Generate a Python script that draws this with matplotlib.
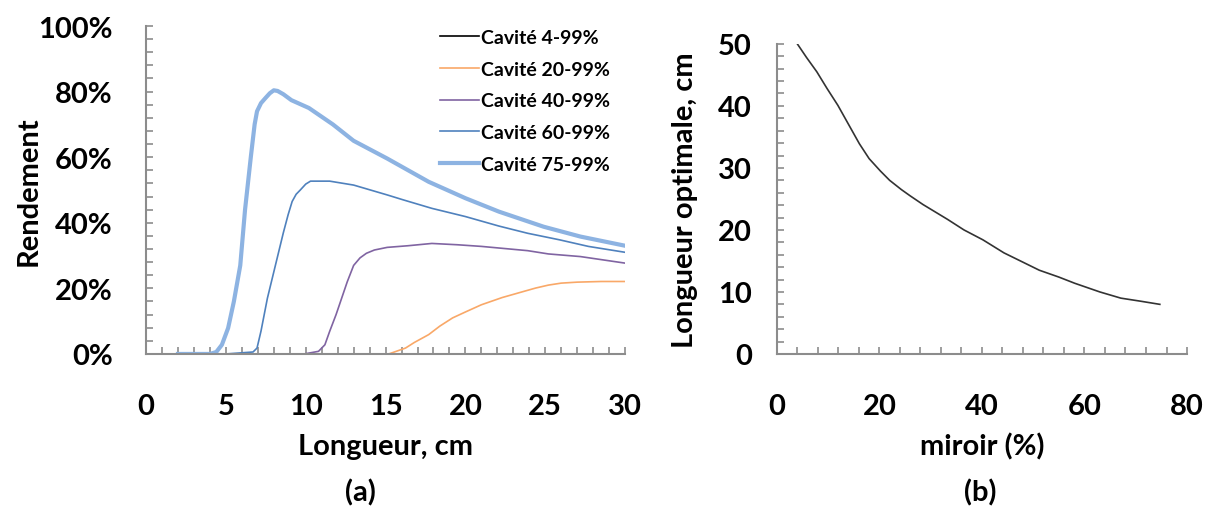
import matplotlib
matplotlib.use("Agg")
import matplotlib.pyplot as plt
from matplotlib.ticker import MultipleLocator, PercentFormatter

plt.rcParams['font.family'] = ['Lato', 'DejaVu Sans']
plt.rcParams['font.weight'] = 'bold'

# --- (a) Rendement vs longueur ---
x_4 = []
y_4 = []

x_20 = [15.2, 16.25, 16.8, 17.7, 18.4, 19.2, 20.0, 21.0, 22.3, 23.6, 24.4, 25.2, 26.0, 27.0, 28.5, 30.0]
y_20 = [0.0, 1.8, 3.5, 5.9, 8.5, 11.0, 12.8, 15.0, 17.2, 19.0, 20.1, 21.0, 21.6, 21.9, 22.1, 22.1]

x_40 = [9.9, 10.8, 11.2, 11.5, 11.9, 12.25, 12.6, 13.0, 13.4, 13.8, 14.3, 15.1, 16.4, 17.9, 19.5, 21.0, 23.9, 25.2, 27.2, 30.0]
y_40 = [0.0, 0.8, 2.8, 6.9, 12.0, 17.0, 22.0, 27.0, 29.3, 30.7, 31.7, 32.5, 33.0, 33.7, 33.3, 32.8, 31.5, 30.5, 29.7, 27.7]

x_60 = [5.0, 6.7, 6.95, 7.2, 7.6, 8.1, 8.6, 8.9, 9.15, 9.4, 9.66, 10.0, 10.3, 11.5, 13.0, 15.1, 16.1, 17.9, 20.0, 22.1, 23.9, 25.9, 27.7, 30.0]
y_60 = [0.0, 0.6, 1.8, 7.0, 17.0, 27.0, 37.0, 42.5, 46.5, 48.7, 50.0, 51.8, 52.7, 52.7, 51.5, 48.5, 47.0, 44.4, 41.9, 39.0, 36.8, 34.8, 32.8, 31.0]

x_75 = [2.0, 4.0, 4.4, 4.75, 5.14, 5.5, 5.9, 6.2, 6.56, 6.8, 6.95, 7.2, 7.47, 7.75, 8.0, 8.24, 8.6, 9.1, 10.2, 11.7, 13.0, 15.1, 17.7, 20.0, 22.1, 24.9, 27.2, 30.0]
y_75 = [0.0, 0.0, 0.6, 2.8, 7.9, 16.0, 27.0, 44.0, 60.0, 70.0, 74.0, 76.5, 78.0, 79.5, 80.4, 80.2, 79.2, 77.4, 75.0, 70.0, 65.0, 59.6, 52.5, 47.5, 43.4, 38.8, 35.8, 33.0]

# --- (b) Longueur optimale vs miroir ---
miroir = [4.0, 5.8, 7.8, 9.8, 11.9, 14.0, 16.1, 18.0, 20.2, 22.0, 24.3, 26.0, 28.5, 33.3, 36.5, 40.2, 44.3, 48.0, 51.2, 55.0, 58.1, 63.0, 67.1, 71.0, 74.7]
longueur_opt = [50.0, 47.8, 45.5, 42.8, 40.1, 37.0, 33.9, 31.5, 29.5, 28.0, 26.5, 25.5, 24.1, 21.7, 20.0, 18.4, 16.3, 14.8, 13.5, 12.4, 11.4, 10.0, 9.0, 8.5, 8.0]

gris = '#8c8c8c'
fs = 21

fig = plt.figure(figsize=(12.1, 5.1), dpi=100)
ax1 = fig.add_axes([0.1207, 0.304, 0.3959, 0.643])
ax2 = fig.add_axes([0.642, 0.304, 0.339, 0.608])

ax1.plot(x_4, y_4, color='black', lw=1.2, label='Cavité 4-99%')
ax1.plot(x_20, y_20, color='#f9a868', lw=1.2, label='Cavité 20-99%')
ax1.plot(x_40, y_40, color='#8064a2', lw=1.2, label='Cavité 40-99%')
ax1.plot(x_60, y_60, color='#4f81bd', lw=1.2, label='Cavité 60-99%')
ax1.plot(x_75, y_75, color='#8db3e2', lw=3, label='Cavité 75-99%')

ax2.plot(miroir, longueur_opt, color='#333333', lw=1.2)

for ax in (ax1, ax2):
    for s in ('top', 'right'):
        ax.spines[s].set_visible(False)
    for s in ('left', 'bottom'):
        ax.spines[s].set_color(gris)
        ax.spines[s].set_linewidth(1.5)
    ax.tick_params(which='both', direction='in', color=gris, width=1.2, length=5)
    ax.tick_params(axis='x', which='major', pad=28, labelsize=fs)
    ax.tick_params(axis='y', which='major', labelsize=fs)

ax1.set_xlim(0, 30)
ax1.set_ylim(0, 100)
ax1.xaxis.set_major_locator(MultipleLocator(5))
ax1.xaxis.set_minor_locator(MultipleLocator(1))
ax1.yaxis.set_major_locator(MultipleLocator(20))
ax1.yaxis.set_minor_locator(MultipleLocator(4))
ax1.yaxis.set_major_formatter(PercentFormatter(decimals=0))
ax1.tick_params(axis='y', which='major', pad=24)
ax1.set_xlabel('Longueur, cm', fontsize=fs, fontweight='bold', labelpad=10)
ax1.set_ylabel('Rendement', fontsize=fs, fontweight='bold')
ax1.yaxis.set_label_coords(-0.217, 0.5)

ax2.set_xlim(0, 80)
ax2.set_ylim(0, 50)
ax2.xaxis.set_major_locator(MultipleLocator(20))
ax2.xaxis.set_minor_locator(MultipleLocator(4))
ax2.yaxis.set_major_locator(MultipleLocator(10))
ax2.yaxis.set_minor_locator(MultipleLocator(2))
ax2.tick_params(axis='y', which='major', pad=18)
ax2.set_xlabel('miroir (%)', fontsize=fs, fontweight='bold', labelpad=10)
ax2.set_ylabel('Longueur optimale, cm', fontsize=fs, fontweight='bold')
ax2.yaxis.set_label_coords(-0.193, 0.5)

ax1.legend(loc='upper left', bbox_to_anchor=(0.349, 0.975), bbox_transform=fig.transFigure,
           frameon=False, prop={'size': 14, 'weight': 'bold'}, handlelength=2.0,
           handletextpad=0.1, labelspacing=0.75)

fig.text(0.298, 0.033, '(a)', fontsize=fs, ha='center', va='center')
fig.text(0.81, 0.033, '(b)', fontsize=fs, ha='center', va='center')

fig.savefig('out.png', dpi=100)
